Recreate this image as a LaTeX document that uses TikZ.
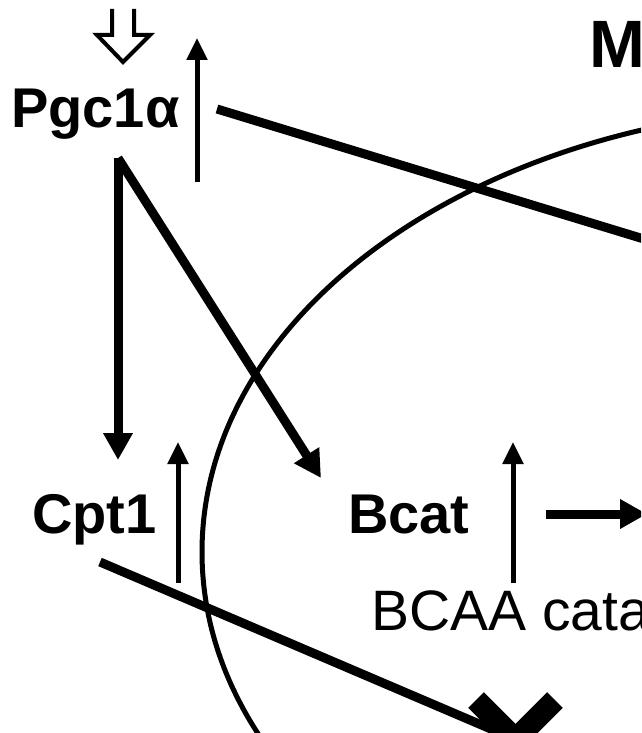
\documentclass[tikz,border=0pt]{standalone}
\usepackage{fontspec}
\setmainfont{Liberation Sans}
\usetikzlibrary{arrows.meta,calc}
\begin{document}
\begin{tikzpicture}[x=1pt,y=-1pt,
  thickline/.style={line width=9pt},
  thinarrow/.style={line width=5pt,-{Triangle[length=22pt,width=20pt]}},
  bigarrow/.style={line width=9pt,-{Triangle[length=27pt,width=28pt]}},
  lbl/.style={font=\fontsize{56}{60}\selectfont\bfseries, inner sep=0pt, anchor=base west},
  plain/.style={font=\fontsize{57}{60}\selectfont, inner sep=0pt, anchor=base west},
  membrane/.style={line width=5pt},
  hollow/.style={line width=4pt, line join=miter},
  block/.style={line width=22pt}
]
\useasboundingbox (0,0) rectangle (641,733);
\clip (0,0) rectangle (641,733);

% mitochondrion outline
\draw[membrane] (847,552) ellipse [x radius=645pt, y radius=445pt];

% texts
\node[lbl] (pgc) at (11,128) {Pgc1α};
\node[lbl] (cpt) at (32,533) {Cpt1};
\node[lbl] (bcat) at (348,533) {Bcat};
\node[plain] (bcaa) at (371,630) {BCAA cata};
\node[font=\fontsize{67}{70}\selectfont\bfseries, inner sep=0pt, anchor=base west] (mlabel) at (589,68) {M};

% coordinates
\coordinate (hA) at (112,9);
\coordinate (hB) at (134,9);
\coordinate (pgcS) at (118,158);
\coordinate (cptT) at (118,460);
\coordinate (bcatT) at (321,478);
\coordinate (pgcUpS) at (197,182);
\coordinate (pgcUpT) at (197,38);
\coordinate (cptUpS) at (178,583);
\coordinate (cptUpT) at (178,442);
\coordinate (bcatUpS) at (513,583);
\coordinate (bcatUpT) at (513,442);
\coordinate (pgcR) at (217,109);
\coordinate (pgcRend) at (680,250);
\coordinate (cptS) at (100,562);
\coordinate (xc) at (515.5,739.5);
\coordinate (bcatR) at (546,514);
\coordinate (bcatRend) at (647,514);

% hollow double arrow into Pgc1a
\draw[hollow] (hA) -- (112,35) -- (97,35) -- (123,62) -- (150,35) -- (134,35) -- (hB);

% up arrows
\draw[thinarrow] (pgcUpS) -- (pgcUpT);
\draw[thinarrow] (cptUpS) -- (cptUpT);
\draw[thinarrow] (bcatUpS) -- (bcatUpT);

% Pgc1a connectors
\draw[bigarrow] (pgcS) -- (cptT);
\draw[bigarrow] (pgcS) -- (bcatT);
\draw[thickline] (pgcR) -- (pgcRend);

% Cpt1 line to block
\draw[thickline] (cptS) -- (xc);
\draw[block] ($(xc)+(-39.5,-39.5)$) -- ($(xc)+(50,50)$);
\draw[block] ($(xc)+(39.5,-39.5)$) -- ($(xc)+(-50,50)$);

% Bcat arrow
\draw[bigarrow] (bcatR) -- (bcatRend);
\end{tikzpicture}
\end{document}
